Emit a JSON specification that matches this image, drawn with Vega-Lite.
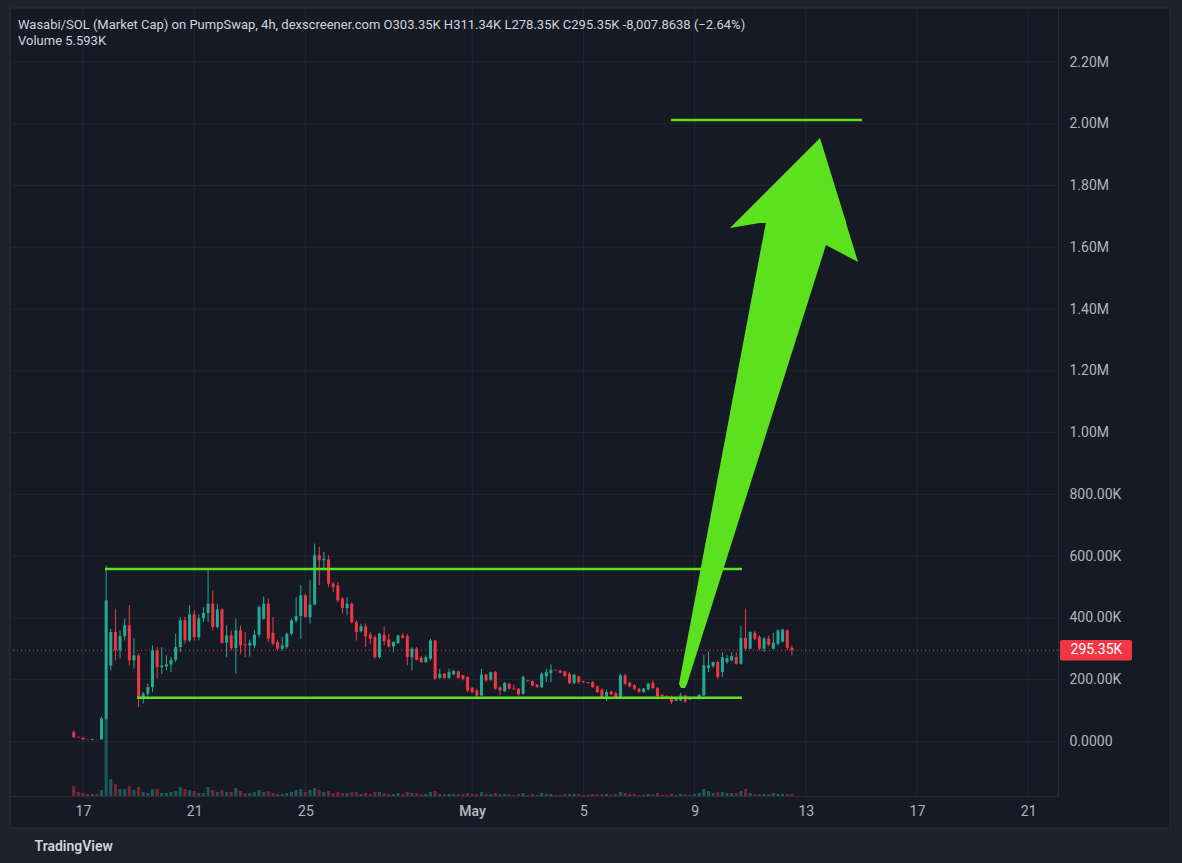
{
  "$schema": "https://vega.github.io/schema/vega-lite/v6.json",
  "width": 1048,
  "height": 788,
  "autosize": {"type": "none"},
  "padding": {"left": 10, "top": 8, "right": 124, "bottom": 67},
  "background": "#1e222d",
  "config": {
    "font": "Roboto",
    "view": {"stroke": null, "fill": null}
  },
  "title": {
    "text": "Wasabi/SOL (Market Cap) on PumpSwap, 4h, dexscreener.com  O303.35K  H311.34K  L278.35K  C295.35K  -8,007.8638 (−2.64%)",
    "subtitle": "Volume  5.593K",
    "anchor": "start",
    "frame": "group",
    "offset": -40,
    "dx": 8,
    "font": "Roboto",
    "fontSize": 13,
    "fontWeight": "normal",
    "color": "#d1d4dc",
    "subtitleFont": "Roboto",
    "subtitleFontSize": 13,
    "subtitleColor": "#d1d4dc",
    "subtitlePadding": 3
  },
  "datasets": {
    "candles": [
      {"t": "2025-04-16T16:00", "o": 30100, "h": 35700, "l": 12000, "c": 13900, "vol": 28000},
      {"t": "2025-04-16T20:00", "o": 14000, "h": 17000, "l": 11000, "c": 13000, "vol": 11200},
      {"t": "2025-04-17T00:00", "o": 12500, "h": 13000, "l": 6000, "c": 7000, "vol": 8400},
      {"t": "2025-04-17T04:00", "o": 6500, "h": 7000, "l": 5500, "c": 6000, "vol": 5600},
      {"t": "2025-04-17T08:00", "o": 6000, "h": 9000, "l": 5000, "c": 8000, "vol": 5600},
      {"t": "2025-04-17T12:00", "o": 7000, "h": 7500, "l": 6000, "c": 6500, "vol": 5600},
      {"t": "2025-04-17T16:00", "o": 6500, "h": 81000, "l": 6000, "c": 74600, "vol": 16800},
      {"t": "2025-04-17T20:00", "o": 74600, "h": 570000, "l": 70000, "c": 457000, "vol": 218400},
      {"t": "2025-04-18T00:00", "o": 246400, "h": 365300, "l": 230100, "c": 354300, "vol": 47600},
      {"t": "2025-04-18T04:00", "o": 354300, "h": 430000, "l": 262600, "c": 295000, "vol": 33600},
      {"t": "2025-04-18T08:00", "o": 295000, "h": 360000, "l": 269000, "c": 341000, "vol": 19600},
      {"t": "2025-04-18T12:00", "o": 341000, "h": 398000, "l": 327000, "c": 376000, "vol": 19600},
      {"t": "2025-04-18T16:00", "o": 376000, "h": 441000, "l": 246000, "c": 262600, "vol": 28000},
      {"t": "2025-04-18T20:00", "o": 262600, "h": 335000, "l": 236600, "c": 278800, "vol": 16800},
      {"t": "2025-04-19T00:00", "o": 278800, "h": 285000, "l": 111000, "c": 138400, "vol": 25200},
      {"t": "2025-04-19T04:00", "o": 138400, "h": 160000, "l": 123000, "c": 154600, "vol": 11200},
      {"t": "2025-04-19T08:00", "o": 154600, "h": 188000, "l": 143000, "c": 176000, "vol": 8400},
      {"t": "2025-04-19T12:00", "o": 176000, "h": 311000, "l": 160000, "c": 295000, "vol": 19600},
      {"t": "2025-04-19T16:00", "o": 295000, "h": 305700, "l": 203000, "c": 240800, "vol": 19600},
      {"t": "2025-04-19T20:00", "o": 240800, "h": 305000, "l": 219000, "c": 246000, "vol": 8400},
      {"t": "2025-04-20T00:00", "o": 243000, "h": 278800, "l": 230000, "c": 249600, "vol": 8400},
      {"t": "2025-04-20T04:00", "o": 249600, "h": 273000, "l": 224600, "c": 264800, "vol": 11200},
      {"t": "2025-04-20T08:00", "o": 264800, "h": 349000, "l": 257000, "c": 305700, "vol": 14000},
      {"t": "2025-04-20T12:00", "o": 305700, "h": 403000, "l": 289000, "c": 392000, "vol": 25200},
      {"t": "2025-04-20T16:00", "o": 392000, "h": 403000, "l": 316700, "c": 327400, "vol": 19600},
      {"t": "2025-04-20T20:00", "o": 327400, "h": 441000, "l": 322000, "c": 411700, "vol": 16800},
      {"t": "2025-04-21T00:00", "o": 411700, "h": 424600, "l": 327000, "c": 338000, "vol": 14000},
      {"t": "2025-04-21T04:00", "o": 338000, "h": 411000, "l": 327000, "c": 398700, "vol": 8400},
      {"t": "2025-04-21T08:00", "o": 398700, "h": 435000, "l": 386700, "c": 416000, "vol": 8400},
      {"t": "2025-04-21T12:00", "o": 416000, "h": 554000, "l": 386700, "c": 446000, "vol": 25200},
      {"t": "2025-04-21T16:00", "o": 446000, "h": 489500, "l": 360000, "c": 370500, "vol": 16800},
      {"t": "2025-04-21T20:00", "o": 370500, "h": 446000, "l": 366000, "c": 427900, "vol": 11200},
      {"t": "2025-04-22T00:00", "o": 427900, "h": 431000, "l": 316700, "c": 320000, "vol": 16800},
      {"t": "2025-04-22T04:00", "o": 320000, "h": 376000, "l": 273000, "c": 343600, "vol": 11200},
      {"t": "2025-04-22T08:00", "o": 343600, "h": 360000, "l": 295000, "c": 302400, "vol": 11200},
      {"t": "2025-04-22T12:00", "o": 302400, "h": 397700, "l": 219500, "c": 360000, "vol": 22400},
      {"t": "2025-04-22T16:00", "o": 360000, "h": 376000, "l": 284000, "c": 311000, "vol": 14000},
      {"t": "2025-04-22T20:00", "o": 314000, "h": 354000, "l": 273000, "c": 311000, "vol": 8400},
      {"t": "2025-04-23T00:00", "o": 311000, "h": 330000, "l": 275000, "c": 320000, "vol": 8400},
      {"t": "2025-04-23T04:00", "o": 311000, "h": 360000, "l": 301000, "c": 346000, "vol": 11200},
      {"t": "2025-04-23T08:00", "o": 346000, "h": 441000, "l": 337000, "c": 435000, "vol": 16800},
      {"t": "2025-04-23T12:00", "o": 397700, "h": 469000, "l": 394000, "c": 446000, "vol": 11200},
      {"t": "2025-04-23T16:00", "o": 446000, "h": 462500, "l": 322000, "c": 333000, "vol": 14000},
      {"t": "2025-04-23T20:00", "o": 352000, "h": 403000, "l": 311000, "c": 316700, "vol": 8400},
      {"t": "2025-04-24T00:00", "o": 322000, "h": 330000, "l": 295000, "c": 300500, "vol": 5600},
      {"t": "2025-04-24T04:00", "o": 300500, "h": 338000, "l": 295000, "c": 311000, "vol": 5600},
      {"t": "2025-04-24T08:00", "o": 305700, "h": 352000, "l": 300500, "c": 349000, "vol": 8400},
      {"t": "2025-04-24T12:00", "o": 349000, "h": 397700, "l": 343600, "c": 392000, "vol": 11200},
      {"t": "2025-04-24T16:00", "o": 392000, "h": 467700, "l": 384800, "c": 406000, "vol": 16800},
      {"t": "2025-04-24T20:00", "o": 406000, "h": 505700, "l": 333000, "c": 473000, "vol": 19600},
      {"t": "2025-04-25T00:00", "o": 473000, "h": 478800, "l": 399700, "c": 403000, "vol": 11200},
      {"t": "2025-04-25T04:00", "o": 403000, "h": 522000, "l": 381500, "c": 443000, "vol": 16800},
      {"t": "2025-04-25T08:00", "o": 443000, "h": 640800, "l": 441000, "c": 603000, "vol": 22400},
      {"t": "2025-04-25T12:00", "o": 603000, "h": 629800, "l": 505700, "c": 586700, "vol": 16800},
      {"t": "2025-04-25T16:00", "o": 586700, "h": 613600, "l": 554000, "c": 592000, "vol": 11200},
      {"t": "2025-04-25T20:00", "o": 590000, "h": 603000, "l": 500000, "c": 511000, "vol": 14000},
      {"t": "2025-04-26T00:00", "o": 511000, "h": 517000, "l": 484000, "c": 500000, "vol": 8400},
      {"t": "2025-04-26T04:00", "o": 505700, "h": 516000, "l": 451500, "c": 457000, "vol": 11200},
      {"t": "2025-04-26T08:00", "o": 462500, "h": 467700, "l": 414000, "c": 432000, "vol": 8400},
      {"t": "2025-04-26T12:00", "o": 432000, "h": 467700, "l": 408000, "c": 446000, "vol": 8400},
      {"t": "2025-04-26T16:00", "o": 446000, "h": 451000, "l": 381500, "c": 386700, "vol": 11200},
      {"t": "2025-04-26T20:00", "o": 386700, "h": 392000, "l": 327000, "c": 354000, "vol": 11200},
      {"t": "2025-04-27T00:00", "o": 357500, "h": 381500, "l": 353000, "c": 372800, "vol": 5600},
      {"t": "2025-04-27T04:00", "o": 372800, "h": 381500, "l": 305700, "c": 340400, "vol": 8400},
      {"t": "2025-04-27T08:00", "o": 346000, "h": 354000, "l": 316700, "c": 333000, "vol": 5600},
      {"t": "2025-04-27T12:00", "o": 338000, "h": 343600, "l": 268000, "c": 273000, "vol": 11200},
      {"t": "2025-04-27T16:00", "o": 273000, "h": 351000, "l": 268000, "c": 349000, "vol": 11200},
      {"t": "2025-04-27T20:00", "o": 346000, "h": 372800, "l": 311000, "c": 325000, "vol": 8400},
      {"t": "2025-04-28T00:00", "o": 330000, "h": 349000, "l": 303700, "c": 308000, "vol": 5600},
      {"t": "2025-04-28T04:00", "o": 308000, "h": 324000, "l": 289000, "c": 322000, "vol": 5600},
      {"t": "2025-04-28T08:00", "o": 318600, "h": 346000, "l": 316700, "c": 343600, "vol": 8400},
      {"t": "2025-04-28T12:00", "o": 343600, "h": 351000, "l": 333000, "c": 336000, "vol": 5600},
      {"t": "2025-04-28T16:00", "o": 341000, "h": 349000, "l": 246400, "c": 273000, "vol": 11200},
      {"t": "2025-04-28T20:00", "o": 273000, "h": 305700, "l": 230000, "c": 300500, "vol": 8400},
      {"t": "2025-04-29T00:00", "o": 300500, "h": 305700, "l": 262600, "c": 264800, "vol": 8400},
      {"t": "2025-04-29T04:00", "o": 271000, "h": 277000, "l": 255000, "c": 257000, "vol": 5600},
      {"t": "2025-04-29T08:00", "o": 257000, "h": 278800, "l": 253800, "c": 273000, "vol": 5600},
      {"t": "2025-04-29T12:00", "o": 268000, "h": 333000, "l": 262600, "c": 327400, "vol": 11200},
      {"t": "2025-04-29T16:00", "o": 327400, "h": 328000, "l": 200000, "c": 203000, "vol": 14000},
      {"t": "2025-04-29T20:00", "o": 206000, "h": 235700, "l": 203000, "c": 219500, "vol": 5600},
      {"t": "2025-04-30T00:00", "o": 219500, "h": 221000, "l": 203000, "c": 206000, "vol": 5600},
      {"t": "2025-04-30T04:00", "o": 206000, "h": 235700, "l": 203000, "c": 224600, "vol": 5600},
      {"t": "2025-04-30T08:00", "o": 217000, "h": 233000, "l": 214000, "c": 228000, "vol": 5600},
      {"t": "2025-04-30T12:00", "o": 227000, "h": 230000, "l": 203000, "c": 206000, "vol": 5600},
      {"t": "2025-04-30T16:00", "o": 214000, "h": 216000, "l": 198000, "c": 203000, "vol": 5600},
      {"t": "2025-04-30T20:00", "o": 208400, "h": 210700, "l": 160000, "c": 165300, "vol": 8400},
      {"t": "2025-05-01T00:00", "o": 174000, "h": 176000, "l": 156000, "c": 160000, "vol": 5600},
      {"t": "2025-05-01T04:00", "o": 165000, "h": 171000, "l": 141600, "c": 149000, "vol": 5600},
      {"t": "2025-05-01T08:00", "o": 149000, "h": 235700, "l": 147000, "c": 217000, "vol": 11200},
      {"t": "2025-05-01T12:00", "o": 217000, "h": 219000, "l": 193000, "c": 198000, "vol": 5600},
      {"t": "2025-05-01T16:00", "o": 200000, "h": 226000, "l": 197000, "c": 224600, "vol": 5600},
      {"t": "2025-05-01T20:00", "o": 224600, "h": 228000, "l": 167600, "c": 170800, "vol": 8400},
      {"t": "2025-05-02T00:00", "o": 176000, "h": 178000, "l": 149000, "c": 165000, "vol": 5600},
      {"t": "2025-05-02T04:00", "o": 163000, "h": 193000, "l": 160000, "c": 189000, "vol": 5600},
      {"t": "2025-05-02T08:00", "o": 187000, "h": 189000, "l": 169000, "c": 171000, "vol": 5600},
      {"t": "2025-05-02T12:00", "o": 172000, "h": 184000, "l": 167000, "c": 169000, "vol": 2800},
      {"t": "2025-05-02T16:00", "o": 170800, "h": 172700, "l": 149000, "c": 152400, "vol": 5600},
      {"t": "2025-05-02T20:00", "o": 154600, "h": 214000, "l": 152000, "c": 208400, "vol": 8400},
      {"t": "2025-05-03T00:00", "o": 198000, "h": 200000, "l": 194000, "c": 195000, "vol": 2800},
      {"t": "2025-05-03T04:00", "o": 195500, "h": 197700, "l": 178000, "c": 181500, "vol": 5600},
      {"t": "2025-05-03T08:00", "o": 184800, "h": 186000, "l": 174000, "c": 176000, "vol": 2800},
      {"t": "2025-05-03T12:00", "o": 176000, "h": 224600, "l": 173000, "c": 219500, "vol": 8400},
      {"t": "2025-05-03T16:00", "o": 210700, "h": 235700, "l": 192200, "c": 224600, "vol": 5600},
      {"t": "2025-05-03T20:00", "o": 221400, "h": 249600, "l": 192200, "c": 232400, "vol": 5600},
      {"t": "2025-05-04T00:00", "o": 232400, "h": 233000, "l": 229000, "c": 230000, "vol": 2800},
      {"t": "2025-05-04T04:00", "o": 230000, "h": 231000, "l": 221000, "c": 222700, "vol": 2800},
      {"t": "2025-05-04T08:00", "o": 227000, "h": 228000, "l": 210000, "c": 211700, "vol": 5600},
      {"t": "2025-05-04T12:00", "o": 219500, "h": 224600, "l": 185000, "c": 189000, "vol": 5600},
      {"t": "2025-05-04T16:00", "o": 189000, "h": 219500, "l": 185000, "c": 216200, "vol": 5600},
      {"t": "2025-05-04T20:00", "o": 210700, "h": 214000, "l": 185000, "c": 192200, "vol": 5600},
      {"t": "2025-05-05T00:00", "o": 195000, "h": 197000, "l": 190000, "c": 192000, "vol": 2800},
      {"t": "2025-05-05T04:00", "o": 192000, "h": 193000, "l": 188000, "c": 189000, "vol": 2800},
      {"t": "2025-05-05T08:00", "o": 192000, "h": 195500, "l": 172700, "c": 176000, "vol": 5600},
      {"t": "2025-05-05T12:00", "o": 178000, "h": 182000, "l": 156000, "c": 160000, "vol": 5600},
      {"t": "2025-05-05T16:00", "o": 167600, "h": 172700, "l": 141600, "c": 143600, "vol": 5600},
      {"t": "2025-05-05T20:00", "o": 145900, "h": 167600, "l": 130600, "c": 160000, "vol": 5600},
      {"t": "2025-05-06T00:00", "o": 162000, "h": 165000, "l": 150000, "c": 152400, "vol": 2800},
      {"t": "2025-05-06T04:00", "o": 156600, "h": 162000, "l": 141600, "c": 143600, "vol": 5600},
      {"t": "2025-05-06T08:00", "o": 143600, "h": 219500, "l": 141600, "c": 214000, "vol": 11200},
      {"t": "2025-05-06T12:00", "o": 214000, "h": 219500, "l": 182000, "c": 187000, "vol": 8400},
      {"t": "2025-05-06T16:00", "o": 190000, "h": 194000, "l": 175000, "c": 179000, "vol": 5600},
      {"t": "2025-05-06T20:00", "o": 181500, "h": 186000, "l": 165000, "c": 170800, "vol": 5600},
      {"t": "2025-05-07T00:00", "o": 170800, "h": 172000, "l": 158000, "c": 160000, "vol": 2800},
      {"t": "2025-05-07T04:00", "o": 160000, "h": 173000, "l": 158000, "c": 171000, "vol": 2800},
      {"t": "2025-05-07T08:00", "o": 168600, "h": 191000, "l": 165000, "c": 187000, "vol": 5600},
      {"t": "2025-05-07T12:00", "o": 190000, "h": 197700, "l": 170800, "c": 172700, "vol": 5600},
      {"t": "2025-05-07T16:00", "o": 172700, "h": 176000, "l": 143600, "c": 146800, "vol": 8400},
      {"t": "2025-05-07T20:00", "o": 151000, "h": 154000, "l": 143600, "c": 146800, "vol": 2800},
      {"t": "2025-05-08T00:00", "o": 148000, "h": 149000, "l": 144000, "c": 145000, "vol": 2800},
      {"t": "2025-05-08T04:00", "o": 143600, "h": 149000, "l": 122200, "c": 127400, "vol": 5600},
      {"t": "2025-05-08T08:00", "o": 132000, "h": 143600, "l": 130000, "c": 138000, "vol": 2800},
      {"t": "2025-05-08T12:00", "o": 133000, "h": 157900, "l": 130000, "c": 149000, "vol": 5600},
      {"t": "2025-05-08T16:00", "o": 149000, "h": 151000, "l": 125400, "c": 129700, "vol": 5600},
      {"t": "2025-05-08T20:00", "o": 136000, "h": 143000, "l": 134000, "c": 140000, "vol": 2800},
      {"t": "2025-05-09T00:00", "o": 140000, "h": 145000, "l": 138000, "c": 143000, "vol": 5600},
      {"t": "2025-05-09T04:00", "o": 138400, "h": 154000, "l": 136000, "c": 151000, "vol": 8400},
      {"t": "2025-05-09T08:00", "o": 149000, "h": 281000, "l": 146800, "c": 246400, "vol": 19600},
      {"t": "2025-05-09T12:00", "o": 238000, "h": 291700, "l": 224600, "c": 246400, "vol": 14000},
      {"t": "2025-05-09T16:00", "o": 244000, "h": 259000, "l": 239000, "c": 257000, "vol": 8400},
      {"t": "2025-05-09T20:00", "o": 257000, "h": 262600, "l": 203000, "c": 208400, "vol": 11200},
      {"t": "2025-05-10T00:00", "o": 224600, "h": 289000, "l": 208400, "c": 273000, "vol": 11200},
      {"t": "2025-05-10T04:00", "o": 257000, "h": 281000, "l": 252000, "c": 270000, "vol": 8400},
      {"t": "2025-05-10T08:00", "o": 262600, "h": 289000, "l": 259000, "c": 276500, "vol": 8400},
      {"t": "2025-05-10T12:00", "o": 273000, "h": 289500, "l": 248600, "c": 251900, "vol": 8400},
      {"t": "2025-05-10T16:00", "o": 251900, "h": 373700, "l": 248600, "c": 334900, "vol": 14000},
      {"t": "2025-05-10T20:00", "o": 334900, "h": 430000, "l": 295000, "c": 300500, "vol": 19600},
      {"t": "2025-05-11T00:00", "o": 300500, "h": 356600, "l": 298000, "c": 354300, "vol": 8400},
      {"t": "2025-05-11T04:00", "o": 352000, "h": 357000, "l": 327400, "c": 333000, "vol": 5600},
      {"t": "2025-05-11T08:00", "o": 338000, "h": 343600, "l": 295000, "c": 300500, "vol": 5600},
      {"t": "2025-05-11T12:00", "o": 300500, "h": 338000, "l": 289500, "c": 333000, "vol": 5600},
      {"t": "2025-05-11T16:00", "o": 333000, "h": 343600, "l": 308000, "c": 313400, "vol": 5600},
      {"t": "2025-05-11T20:00", "o": 300500, "h": 352000, "l": 298000, "c": 320000, "vol": 8400},
      {"t": "2025-05-12T00:00", "o": 316700, "h": 363000, "l": 311000, "c": 359800, "vol": 5600},
      {"t": "2025-05-12T04:00", "o": 324000, "h": 365000, "l": 320000, "c": 362000, "vol": 5600},
      {"t": "2025-05-12T08:00", "o": 360000, "h": 363000, "l": 295000, "c": 303350, "vol": 5600},
      {"t": "2025-05-12T12:00", "o": 303350, "h": 311340, "l": 278350, "c": 295350, "vol": 5593}
    ],
    "levels": [
      {"start": "2025-04-17T19:00", "end": "2025-05-10T16:55", "value": 558500},
      {"start": "2025-04-18T22:40", "end": "2025-05-10T16:55", "value": 141800},
      {"start": "2025-05-08T03:39", "end": "2025-05-15T00:32", "value": 2012200}
    ],
    "arrow": [
      {"part": "head", "v": 1678800, "left": "2025-05-10T10:53", "right": "2025-05-14T10:59"},
      {"part": "head", "v": 1953900, "left": "2025-05-13T12:17", "right": "2025-05-13T12:17"},
      {"part": "neck", "v": 1607500, "left": "2025-05-11T09:57", "right": "2025-05-14T16:36"},
      {"part": "neck", "v": 1688500, "left": "2025-05-11T14:00", "right": "2025-05-14T09:57"},
      {"part": "leftbarb", "v": 1662600, "left": "2025-05-10T06:35", "right": "2025-05-10T06:35"},
      {"part": "leftbarb", "v": 1682000, "left": "2025-05-10T11:45", "right": "2025-05-11T13:39"},
      {"part": "shaft", "v": 173200, "left": "2025-05-08T12:16", "right": "2025-05-08T15:43"},
      {"part": "shaft", "v": 186200, "left": "2025-05-08T10:33", "right": "2025-05-08T17:27"},
      {"part": "shaft", "v": 1614000, "left": "2025-05-11T10:12", "right": "2025-05-13T17:59"},
      {"part": "rightbarb", "v": 1552500, "left": "2025-05-14T21:05", "right": "2025-05-14T21:05"},
      {"part": "rightbarb", "v": 1607500, "left": "2025-05-13T17:27", "right": "2025-05-14T16:36"}
    ],
    "dayTicks": [
      {"d": "2025-04-17T00:00"}, {"d": "2025-04-21T00:00"}, {"d": "2025-04-25T00:00"},
      {"d": "2025-05-01T00:00"}, {"d": "2025-05-05T00:00"}, {"d": "2025-05-09T00:00"},
      {"d": "2025-05-13T00:00"}, {"d": "2025-05-17T00:00"}, {"d": "2025-05-21T00:00"}
    ],
    "priceTicks": [
      {"g": 0}, {"g": 200000}, {"g": 400000}, {"g": 600000}, {"g": 800000}, {"g": 1000000},
      {"g": 1200000}, {"g": 1400000}, {"g": 1600000}, {"g": 1800000}, {"g": 2000000}, {"g": 2200000}
    ]
  },
  "layer": [
    {
      "layer": [
        {
          "data": {"values": [{}]},
          "mark": {"type": "rect", "fill": "#161a25", "stroke": "#2a2e39", "strokeWidth": 1},
          "encoding": {
            "x": {"datum": {"year": 2025, "month": 4, "date": 14, "hours": 8, "minutes": 59}, "type": "temporal"},
            "x2": {"datum": {"year": 2025, "month": 5, "date": 26, "hours": 2, "minutes": 27}},
            "y": {"datum": 2374900, "type": "quantitative", "scale": {"domain": [-176500, 2374900], "nice": false, "zero": false}, "axis": null},
            "y2": {"datum": -280100}
          }
        },
        {
          "data": {"name": "dayTicks"},
          "mark": {"type": "rule", "color": "#232632", "strokeWidth": 1},
          "encoding": {
            "x": {"field": "d", "type": "temporal"}
          }
        },
        {
          "data": {"name": "priceTicks"},
          "mark": {"type": "rule", "color": "#232632", "strokeWidth": 1},
          "encoding": {
            "y": {"field": "g", "type": "quantitative", "axis": null}
          }
        }
      ]
    },
    {
      "data": {"name": "candles"},
      "mark": {"type": "bar", "size": 3, "opacity": 0.45},
      "encoding": {
        "x": {
          "field": "t",
          "type": "temporal",
          "scale": {"domain": [{"year": 2025, "month": 4, "date": 14, "hours": 8, "minutes": 59}, {"year": 2025, "month": 5, "date": 22, "hours": 1, "minutes": 45}], "nice": false, "padding": 0},
          "axis": {
            "values": [
              {"year": 2025, "month": 4, "date": 17},
              {"year": 2025, "month": 4, "date": 21},
              {"year": 2025, "month": 4, "date": 25},
              {"year": 2025, "month": 5, "date": 1},
              {"year": 2025, "month": 5, "date": 5},
              {"year": 2025, "month": 5, "date": 9},
              {"year": 2025, "month": 5, "date": 13},
              {"year": 2025, "month": 5, "date": 17},
              {"year": 2025, "month": 5, "date": 21}
            ],
            "labelExpr": "date(datum.value) == 1 ? timeFormat(datum.value, '%b') : timeFormat(datum.value, '%-d')",
            "labelFontWeight": {"condition": {"test": "date(datum.value) == 1", "value": 600}, "value": 400},
            "grid": false,
            "domain": true,
            "domainColor": "#2a2e39",
            "ticks": false,
            "zindex": 1,
            "labelPadding": 8,
            "labelColor": "#b2b5be",
            "labelFont": "Roboto",
            "labelFontSize": 14,
            "labelFlush": false,
            "labelOverlap": false,
            "title": "TradingView",
            "titleX": 24,
            "titleY": 50,
            "titleAlign": "left",
            "titleBaseline": "middle",
            "titleFont": "Roboto",
            "titleFontSize": 14,
            "titleFontWeight": 600,
            "titleColor": "#d1d4dc"
          }
        },
        "y": {"field": "vol", "type": "quantitative", "scale": {"domain": [0, 2206400], "nice": false, "zero": true}, "axis": null},
        "color": {"condition": {"test": "datum.c >= datum.o", "value": "#22ab94"}, "value": "#f23645"}
      }
    },
    {
      "layer": [
        {
          "data": {"values": [{"price": 295350}]},
          "mark": {"type": "rule", "color": "#f23645", "strokeDash": [1, 3], "strokeWidth": 1},
          "encoding": {
            "y": {
              "field": "price",
              "type": "quantitative",
              "scale": {"domain": [-176500, 2374900], "nice": false, "zero": false},
              "axis": {
                "orient": "right",
                "values": [0, 200000, 400000, 600000, 800000, 1000000, 1200000, 1400000, 1600000, 1800000, 2000000, 2200000],
                "labelExpr": "datum.value == 0 ? '0.0000' : datum.value >= 1000000 ? format(datum.value / 1000000, '.2f') + 'M' : format(datum.value / 1000, '.2f') + 'K'",
                "grid": false,
                "domain": true,
                "domainColor": "#2a2e39",
                "ticks": false,
                "zindex": 1,
                "labelPadding": 11,
                "labelColor": "#b2b5be",
                "labelFont": "Roboto",
                "labelFontSize": 14,
                "labelBaseline": "middle",
                "title": null
              }
            }
          }
        },
        {
          "data": {"name": "candles"},
          "mark": {"type": "rule", "strokeWidth": 1},
          "encoding": {
            "x": {"field": "t", "type": "temporal"},
            "y": {"field": "l", "type": "quantitative"},
            "y2": {"field": "h"},
            "color": {"condition": {"test": "datum.c >= datum.o", "value": "#22ab94"}, "value": "#f23645"}
          }
        },
        {
          "data": {"name": "candles"},
          "mark": {"type": "bar", "size": 3},
          "encoding": {
            "x": {"field": "t", "type": "temporal"},
            "y": {"field": "o", "type": "quantitative"},
            "y2": {"field": "c"},
            "color": {"condition": {"test": "datum.c >= datum.o", "value": "#22ab94"}, "value": "#f23645"}
          }
        },
        {
          "data": {"name": "levels"},
          "mark": {"type": "rule", "color": "#5ee21f", "strokeWidth": 2.5},
          "encoding": {
            "x": {"field": "start", "type": "temporal"},
            "x2": {"field": "end"},
            "y": {"field": "value", "type": "quantitative"}
          }
        },
        {
          "data": {"name": "arrow"},
          "mark": {"type": "area", "orient": "horizontal", "color": "#5ce11e", "opacity": 1},
          "encoding": {
            "y": {"field": "v", "type": "quantitative", "stack": null},
            "x": {"field": "left", "type": "temporal"},
            "x2": {"field": "right"},
            "detail": {"field": "part", "type": "nominal"}
          }
        },
        {
          "data": {"values": [{}]},
          "mark": {"type": "rect", "color": "#f23645", "cornerRadius": 2},
          "encoding": {
            "x": {"datum": {"year": 2025, "month": 5, "date": 22, "hours": 3, "minutes": 29}, "type": "temporal"},
            "x2": {"datum": {"year": 2025, "month": 5, "date": 24, "hours": 17, "minutes": 38}},
            "y": {"datum": 328400, "type": "quantitative"},
            "y2": {"datum": 262400}
          }
        },
        {
          "data": {"values": [{}]},
          "mark": {"type": "text", "align": "left", "baseline": "middle", "color": "#ffffff", "font": "Roboto", "fontSize": 14},
          "encoding": {
            "x": {"datum": {"year": 2025, "month": 5, "date": 22, "hours": 12, "minutes": 33}, "type": "temporal"},
            "y": {"datum": 295350, "type": "quantitative"},
            "text": {"value": "295.35K"}
          }
        }
      ]
    }
  ],
  "resolve": {"scale": {"y": "independent"}}
}
